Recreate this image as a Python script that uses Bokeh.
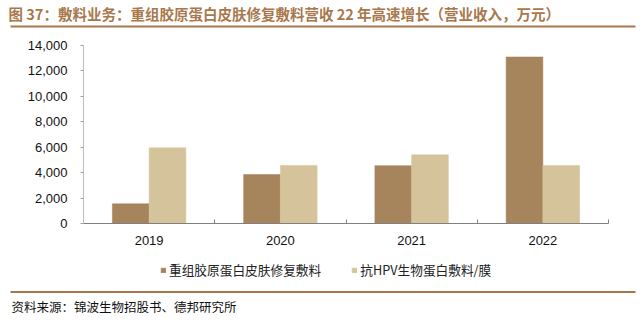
from bokeh.plotting import figure
from bokeh.models import (ColumnDataSource, Range1d, FixedTicker, Label, BoxAnnotation,
                          Legend, LegendItem, NumeralTickFormatter)
from bokeh.transform import dodge
from bokeh.embed import file_html
from bokeh.resources import INLINE

years = ["2019", "2020", "2021", "2022"]
collagen = [1550, 3850, 4550, 13100]
hpv = [5950, 4570, 5400, 4570]
series_names = ["重组胶原蛋白皮肤修复敷料", "抗HPV生物蛋白敷料/膜"]
title_text = "图 37：敷料业务：重组胶原蛋白皮肤修复敷料营收 22 年高速增长（营业收入，万元）"
source_text = "资料来源：锦波生物招股书、德邦研究所"
y_ticks = [0, 2000, 4000, 6000, 8000, 10000, 12000, 14000]

DARK = "#A6845C"
LIGHT = "#D5C49B"
BROWN = "#A8784C"
CJK = "Noto Sans CJK SC"

# canvas / layout geometry (pixels)
W, H = 643, 335
PLOT_L, PLOT_R, PLOT_T, PLOT_B = 83, 608, 45, 223
YMAX = 14000

n = len(years)
px_per_cat = (PLOT_R - PLOT_L) / n
px_per_val = (PLOT_B - PLOT_T) / YMAX
x_start = -0.5 - PLOT_L / px_per_cat
x_end = n - 0.5 + (W - PLOT_R) / px_per_cat
y_start = -(H - PLOT_B) / px_per_val
y_end = YMAX + PLOT_T / px_per_val

idx = list(range(n))
src = ColumnDataSource(dict(x=idx, collagen=collagen, hpv=hpv))

p = figure(width=W, height=H, output_backend="svg", toolbar_location=None,
           x_range=Range1d(x_start, x_end), y_range=Range1d(y_start, y_end),
           min_border=0, min_border_left=0, min_border_right=0,
           min_border_top=0, min_border_bottom=0)
p.outline_line_color = None
p.grid.grid_line_color = None
p.background_fill_color = "white"
p.border_fill_color = "white"

w = 0.28
r1 = p.vbar(x=dodge("x", -w / 2, range=p.x_range), top="collagen", width=w, source=src,
            fill_color=DARK, line_color=DARK, line_width=0.5)
r2 = p.vbar(x=dodge("x", w / 2, range=p.x_range), top="hpv", width=w, source=src,
            fill_color=LIGHT, line_color=LIGHT, line_width=0.5)

# x axis (drawn at value 0)
xa = p.xaxis[0]
xa.fixed_location = 0
xa.bounds = (-0.5, n - 0.5)
xa.ticker = FixedTicker(ticks=idx, minor_ticks=[i + 0.5 for i in idx])
xa.major_label_overrides = {i: y for i, y in enumerate(years)}
xa.major_tick_line_color = None
xa.minor_tick_in = 4
xa.minor_tick_out = 0
xa.minor_tick_line_color = "#808080"
xa.axis_line_color = "#808080"
xa.major_label_text_font = "Liberation Sans"
xa.major_label_text_font_size = "13px"
xa.major_label_text_color = "#111111"
xa.major_label_standoff = 6

# y axis (drawn at left edge of first category)
ya = p.yaxis[0]
ya.fixed_location = -0.5
ya.bounds = (0, YMAX)
ya.ticker = FixedTicker(ticks=y_ticks)
ya.formatter = NumeralTickFormatter(format="0,0")
ya.minor_tick_line_color = None
ya.major_tick_in = 0
ya.major_tick_out = 3
ya.major_tick_line_color = "#A0A0A0"
ya.axis_line_color = "#BFBFBF"
ya.major_label_text_font = "Liberation Sans"
ya.major_label_text_font_size = "13px"
ya.major_label_text_color = "#111111"
ya.major_label_standoff = 13

legend = Legend(items=[LegendItem(label=series_names[0], renderers=[r1]),
                       LegendItem(label=series_names[1], renderers=[r2])],
                orientation="horizontal", location=(160, H - 279),
                glyph_width=6, glyph_height=6, label_standoff=3, spacing=30,
                label_text_font=CJK, label_text_font_size="12.7px", label_text_color="#222222",
                label_height=14, padding=0, margin=0,
                border_line_color=None, background_fill_alpha=0)
p.add_layout(legend, "center")

p.add_layout(Label(x=8, y=H - 12.5, x_units="screen", y_units="screen", text=title_text,
                   text_font=CJK, text_font_size="14.5px", text_font_style="bold",
                   text_color=BROWN, text_baseline="middle"))
for ytop in (25, 290.5):
    p.add_layout(BoxAnnotation(left=10, right=635, top=H - ytop, bottom=H - ytop - 2,
                               left_units="screen", right_units="screen", top_units="screen",
                               bottom_units="screen", fill_color=BROWN, fill_alpha=1,
                               line_color=None))
p.add_layout(Label(x=11, y=H - 306, x_units="screen", y_units="screen", text=source_text,
                   text_font=CJK, text_font_size="12.5px", text_color="#111111",
                   text_baseline="middle"))

open("out.html", "w").write(file_html(p, INLINE))
